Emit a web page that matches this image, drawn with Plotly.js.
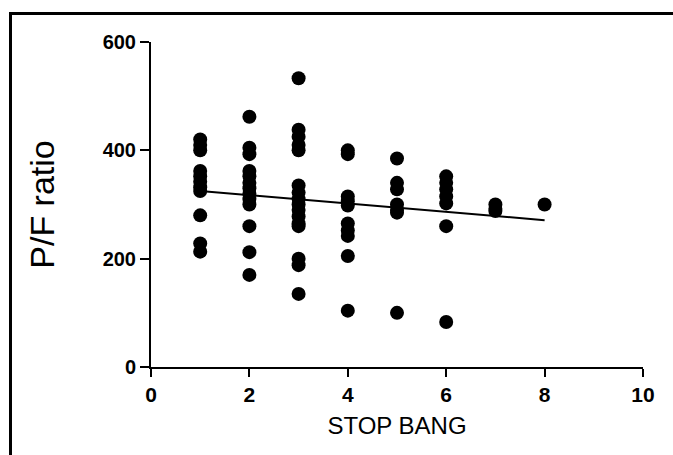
<!DOCTYPE html>
<html>
<head>
<meta charset="utf-8">
<script src="https://cdn.plot.ly/plotly-3.0.1.min.js"></script>
<style>
  html, body { margin: 0; padding: 0; background: #fff; }
  #wrap { position: relative; width: 673px; height: 455px; overflow: hidden; }
  #chart { position: absolute; left: 0; top: 0; width: 673px; height: 455px; }
  #frame { position: absolute; left: 9px; top: 12px; width: 700px; height: 500px;
           border-left: 3px solid #000; border-top: 3px solid #000; pointer-events: none; }
</style>
</head>
<body>
<div id="wrap">
  <div id="chart"></div>
  <div id="frame"></div>
</div>
<script>
// STOP BANG score groups and P/F ratio values
const score1 = [420, 410, 400, 362, 352, 342, 332, 325, 280, 228, 213];
const score2 = [462, 405, 393, 362, 352, 340, 330, 320, 310, 300, 260, 212, 170];
const score3 = [533, 438, 425, 410, 400, 335, 322, 310, 300, 290, 278, 265, 260, 200, 188, 135];
const score4 = [400, 393, 315, 306, 298, 265, 252, 242, 205, 104];
const score5 = [385, 340, 328, 300, 290, 285, 100];
const score6 = [352, 340, 328, 315, 302, 260, 83];
const score7 = [300, 292, 288];
const score8 = [300];
const groups = [score1, score2, score3, score4, score5, score6, score7, score8];
const groupScores = [1, 2, 3, 4, 5, 6, 7, 8];

// regression line end points
const fitX = [1, 8];
const fitY = [325, 271];

const xTicks = [0, 2, 4, 6, 8, 10];
const yTicks = [0, 200, 400, 600];

const px = [], py = [];
groups.forEach((g, i) => g.forEach(v => { px.push(groupScores[i]); py.push(v); }));

const traces = [
  { x: px, y: py, type: 'scatter', mode: 'markers', cliponaxis: false,
    marker: { color: '#000', size: 14 }, hoverinfo: 'x+y' },
  { x: fitX, y: fitY, type: 'scatter', mode: 'lines', cliponaxis: false,
    line: { color: '#000', width: 2 } }
];

const layout = {
  width: 673, height: 455,
  margin: { l: 151, r: 30, t: 42, b: 88 },
  paper_bgcolor: '#fff', plot_bgcolor: '#fff',
  showlegend: false,
  font: { family: 'Liberation Sans, Arial, sans-serif', color: '#000' },
  xaxis: {
    range: [0, 10], tickvals: xTicks, ticktext: xTicks.map(String),
    showgrid: false, zeroline: false, showline: true, linecolor: '#000', linewidth: 2,
    ticks: 'outside', ticklen: 8, tickwidth: 2, tickcolor: '#000',
    tickfont: { size: 21, weight: 'bold' },
    title: { text: 'STOP BANG', font: { size: 24 }, standoff: 12 }
  },
  yaxis: {
    range: [0, 600], tickvals: yTicks, ticktext: yTicks.map(String),
    showgrid: false, zeroline: false, showline: true, linecolor: '#000', linewidth: 2,
    ticks: 'outside', ticklen: 9, tickwidth: 2, tickcolor: '#000',
    tickfont: { size: 20, weight: 'bold' },
    title: { text: 'P/F ratio', font: { size: 34 }, standoff: 38 }
  }
};

Plotly.newPlot('chart', traces, layout, { staticPlot: true });
</script>
</body>
</html>
